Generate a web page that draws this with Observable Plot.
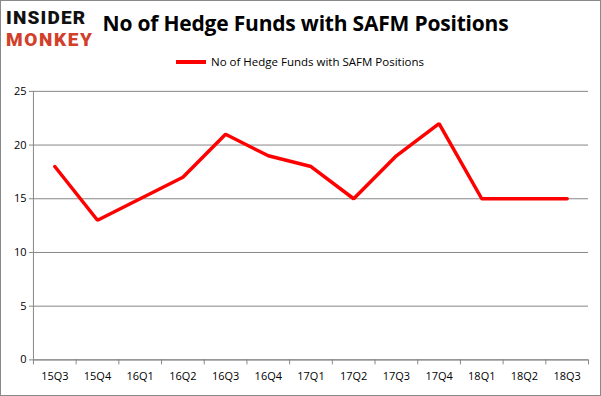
<!DOCTYPE html>
<html><head><meta charset="utf-8">
<script src="https://cdn.jsdelivr.net/npm/d3@7"></script>
<script src="https://cdn.jsdelivr.net/npm/@observablehq/plot@0.6"></script>
<style>
body{margin:0;background:#fff;}
#wrap{position:relative;width:599px;height:394px;border:1px solid #898989;overflow:hidden;background:#fff;font-family:"Open Sans",sans-serif;}
#chart{position:absolute;left:-1px;top:-1px;}
#title{position:absolute;left:4px;width:601px;top:8px;text-align:center;font-weight:bold;font-size:21px;color:#000;white-space:nowrap;letter-spacing:-0.2px;}
#legend{position:absolute;left:175px;top:53px;font-size:11.5px;color:#000;white-space:nowrap;display:flex;align-items:center;}
#legend .sw{display:inline-block;width:30px;height:4px;background:#ff0000;margin-right:5px;}
.logo{position:absolute;left:5px;font-family:"Roboto",sans-serif;font-weight:900;font-size:19px;line-height:normal;letter-spacing:1.2px;}
#la{top:5px;color:#111;}
#lb{top:27px;color:#d2402b;font-size:19px;letter-spacing:1.6px;}
</style></head>
<body>
<div id="wrap">
  <div id="chart"></div>
  <div id="title">No of Hedge Funds with SAFM Positions</div>
  <div id="la" class="logo">INSIDER</div>
  <div id="lb" class="logo">MONKEY</div>
  <div id="legend"><span class="sw"></span><span>No of Hedge Funds with SAFM Positions</span></div>
</div>
<script>
const quarters = ["15Q3","15Q4","16Q1","16Q2","16Q3","16Q4","17Q1","17Q2","17Q3","17Q4","18Q1","18Q2","18Q3"];
const funds = [18,13,15,17,21,19,18,15,19,22,15,15,15];
const yTicks = [0,5,10,15,20,25];

const data = quarters.map((q,i)=>({i, q, v: funds[i]}));
const idx = quarters.map((q,i)=>i);
const bounds = quarters.map((q,i)=>i-0.5).concat([quarters.length-0.5]);

const plot = Plot.plot({
  width: 601,
  height: 396,
  marginTop: 91,
  marginBottom: 36,
  marginLeft: 33,
  marginRight: 12,
  style: {fontFamily: "'Open Sans', sans-serif", fontSize: "11px", color: "#000", background: "transparent"},
  x: {type: "linear", domain: [-0.5, quarters.length-0.5], axis: null},
  y: {domain: [0, 25], axis: null},
  marks: [
    Plot.gridY(yTicks, {stroke: "#878787", strokeOpacity: 1}),
    Plot.ruleX([-0.5], {stroke: "#878787"}),
    Plot.ruleY([0], {stroke: "#878787"}),
    Plot.axisY(yTicks, {tickSize: 4, stroke: "#878787", tickPadding: 3, fill: "#000", label: null, anchor: "left"}),
    Plot.axisX(bounds, {tickSize: 5, stroke: "#878787", tickFormat: () => "", label: null, anchor: "bottom"}),
    Plot.axisX(idx, {tickSize: 0, tickPadding: 12, tickFormat: i => quarters[i], fill: "#000", label: null, anchor: "bottom"}),
    Plot.line(data, {x: "i", y: "v", stroke: "#ff0000", strokeWidth: 3.5, strokeLinejoin: "miter"})
  ]
});
document.getElementById("chart").appendChild(plot);
</script>
</body></html>
